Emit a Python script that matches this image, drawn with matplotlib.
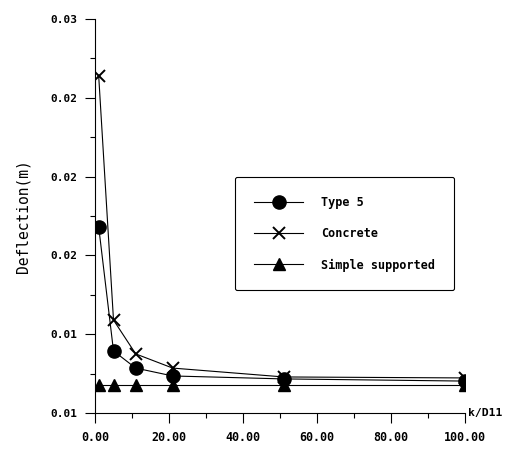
import numpy as np
import matplotlib.pyplot as plt
from matplotlib.ticker import MultipleLocator, FixedLocator

plt.rcParams['font.family'] = ['DejaVu Sans Mono', 'DejaVu Sans']
plt.rcParams['font.weight'] = 'bold'

# stiffness ratio k/D11
k_ratio = [1, 5, 11, 21, 51, 100]

# centre deflection (m)
type5 = [0.01744, 0.01115, 0.01028, 0.00988, 0.00973, 0.00962]
concrete = [0.02510, 0.01272, 0.01100, 0.01028, 0.00983, 0.00978]
simple = [0.00940, 0.00940, 0.00940, 0.00940, 0.00940, 0.00940]

y_ticks = [0.008, 0.012, 0.016, 0.020, 0.024, 0.028]
y_labels = ['0.01', '0.01', '0.02', '0.02', '0.02', '0.03']
x_ticks = [0, 20, 40, 60, 80, 100]
x_labels = ['0.00', '20.00', '40.00', '60.00', '80.00', '100.00']

fig = plt.figure(figsize=(5.16, 4.5), dpi=100)
ax = fig.add_axes([95 / 516, 37 / 450, 370 / 516, 394 / 450])

ax.plot(k_ratio, type5, color='black', lw=0.8, marker='o', ms=9.5,
        label='Type 5')
ax.plot(k_ratio, concrete, color='black', lw=0.8, marker='x', ms=9,
        mew=1.4, label='Concrete')
ax.plot(k_ratio, simple, color='black', lw=0.8, marker='^', ms=8,
        label='Simple supported')

ax.set_xlim(0, 100)
ax.set_ylim(0.008, 0.028)

ax.xaxis.set_major_locator(FixedLocator(x_ticks))
ax.set_xticklabels(x_labels)
ax.xaxis.set_minor_locator(MultipleLocator(10))
ax.yaxis.set_major_locator(FixedLocator(y_ticks))
ax.set_yticklabels(y_labels)
ax.yaxis.set_minor_locator(MultipleLocator(0.002))

ax.tick_params(which='major', direction='out', length=7, width=0.8,
               labelsize=8, pad=6)
ax.tick_params(axis='x', which='major', labelsize=8.4)
ax.tick_params(which='minor', direction='out', length=3.5, width=0.8)

for side in ['top', 'right']:
    ax.spines[side].set_visible(False)
for side in ['left', 'bottom']:
    ax.spines[side].set_linewidth(0.8)

ax.set_ylabel('Deflection(m)', fontsize=10.5, labelpad=14)
ax.text(1.008, 0.0, 'k/D11', transform=ax.transAxes, fontsize=8.2,
        ha='left', va='center')

leg = ax.legend(loc='upper left', bbox_to_anchor=(0.378, 0.599),
                borderaxespad=0, fontsize=8.5, handlelength=4.2,
                handletextpad=1.5, labelspacing=1.55, borderpad=1.6,
                fancybox=True, framealpha=1, edgecolor='black')
leg.get_frame().set_linewidth(0.8)

fig.savefig('out.png', dpi=100, facecolor='white')
